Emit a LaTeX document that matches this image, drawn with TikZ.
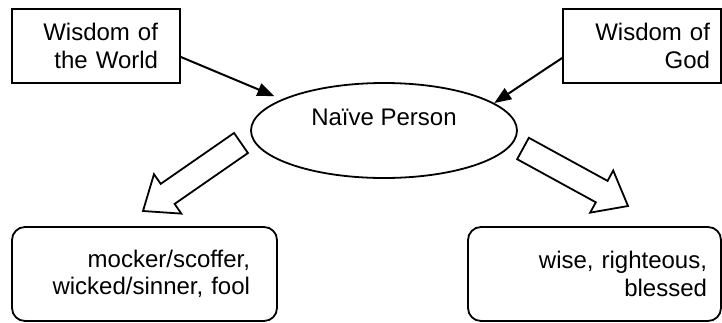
\documentclass[tikz,border=0pt]{standalone}
\usepackage{fontspec}
\setmainfont{Liberation Sans}
\usepackage{tikz}
\usetikzlibrary{shapes.geometric, arrows.meta, calc}

% hollow block arrow from tail #1 to tip #2
\newcommand{\fatarrow}[2]{%
  \coordinate (#1h) at ($(#2)!15pt!(#1)$);
  \draw[hollow] ($(#1)!6.1pt!90:(#2)$) -- ($(#1h)!6.1pt!90:(#2)$) -- ($(#1h)!12pt!90:(#2)$) -- (#2)
    -- ($(#1h)!12pt!-90:(#2)$) -- ($(#1h)!6.1pt!-90:(#2)$) -- ($(#1)!6.1pt!-90:(#2)$) -- cycle;
}

\begin{document}
\begin{tikzpicture}[
  x=0.5pt, y=-0.5pt,
  every node/.style={font=\fontsize{12}{13.8}\selectfont},
  srcbox/.style={draw, line width=0.9pt, minimum height=37pt, align=right, inner sep=0pt},
  outbox/.style={draw, line width=0.9pt, rounded corners=6.5pt, minimum height=47pt, align=right, inner sep=0pt},
  hollow/.style={draw, line width=0.9pt, fill=white, line join=miter},
  arr/.style={-{Triangle[length=8.5pt, width=6.5pt]}, line width=1pt},
]
\useasboundingbox (0,0) rectangle (722,322);

% Sources
\node[srcbox, minimum width=84pt, text width=62pt] (world) at (96,46) {Wisdom of\\the World};
\node[srcbox, minimum width=79pt, text width=68pt] (god) at (642,46) {Wisdom of\\God};

% Person
\node[draw, ellipse, line width=0.9pt, minimum width=133pt, minimum height=47.5pt, text height=9pt, text depth=14.5pt] (naive) at (384,130.5) {Naïve Person};

% Outcomes
\node[outbox, minimum width=132.5pt, text width=105.5pt] (fool) at (144.5,274) {mocker/scoffer,\\wicked/sinner, fool};
\node[outbox, minimum width=126.5pt, text width=112.5pt] (wise) at (594.5,274) {wise, righteous,\\blessed};

% Arrows
\draw[arr, shorten >=4pt] ([yshift=-5.5pt]world.east) -- (naive.163);
\draw[arr] ([yshift=-6pt]god.west) -- (naive.14);

\coordinate (lt) at (241,143);
\coordinate (ltip) at (143,211);
\coordinate (rt) at (523,148.5);
\coordinate (rtip) at (628,206);
\fatarrow{lt}{ltip}
\fatarrow{rt}{rtip}

\end{tikzpicture}
\end{document}
